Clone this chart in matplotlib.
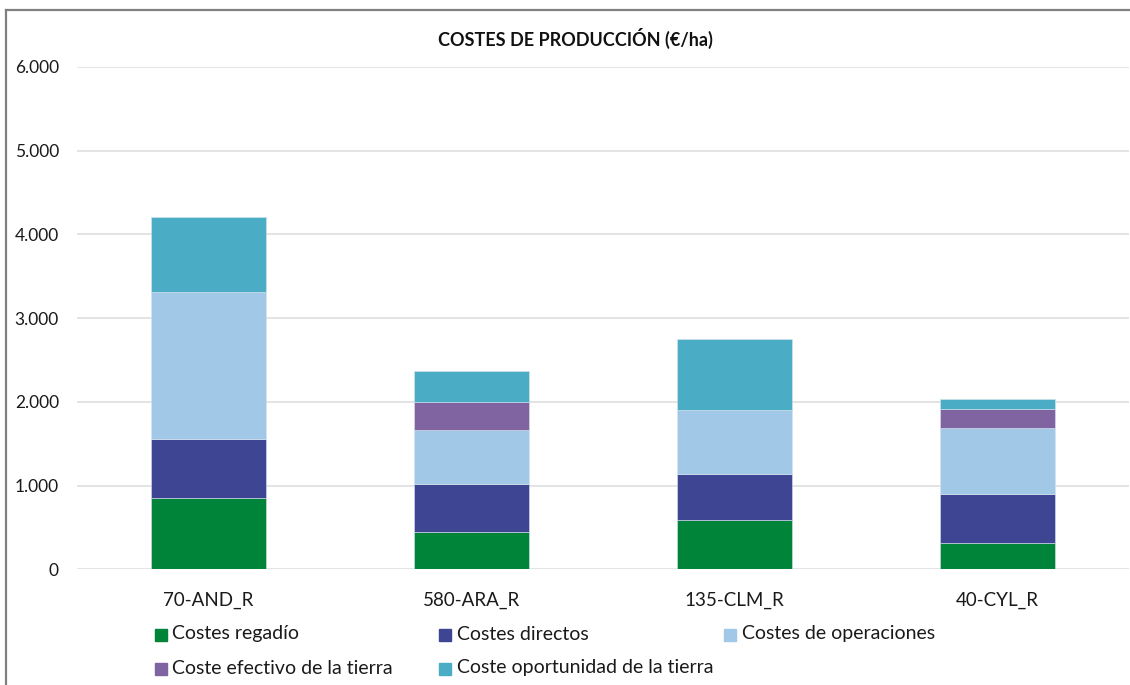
import matplotlib
matplotlib.use("Agg")
import matplotlib.pyplot as plt
from matplotlib.patches import Rectangle
from matplotlib.lines import Line2D
import numpy as np

plt.rcParams['font.family'] = ['Lato', 'DejaVu Sans']

regions = ['70-AND_R', '580-ARA_R', '135-CLM_R', '40-CYL_R']
series_names = ['Costes regadío', 'Costes directos', 'Costes de operaciones',
                'Coste efectivo de la tierra', 'Coste oportunidad de la tierra']
costes_regadio = [850, 445, 585, 310]
costes_directos = [705, 570, 555, 595]
costes_operaciones = [1760, 650, 765, 780]
coste_efectivo = [0, 335, 0, 225]
coste_oportunidad = [890, 365, 845, 120]
colors = ['#00843A', '#3E4592', '#A2C8E8', '#8064A2', '#4BACC6']

series = [costes_regadio, costes_directos, costes_operaciones, coste_efectivo, coste_oportunidad]

fig = plt.figure(figsize=(11.3, 6.85), dpi=100)
ax = fig.add_axes([77 / 1130, 1 - 569.3 / 685, 1052 / 1130, (6 * 83.75) / 685])

x = np.arange(len(regions))
bottom = np.zeros(len(regions))
for vals, col, name in zip(series, colors, series_names):
    vals = np.array(vals, dtype=float)
    ax.bar(x, vals, width=0.44, bottom=bottom, color=col, edgecolor='#d8e4ee',
           linewidth=0.4, label=name, zorder=3)
    bottom += vals

ax.set_xlim(-0.5, len(regions) - 0.5)
ax.set_ylim(0, 6000)
ax.set_yticks(np.arange(0, 6001, 1000))
ax.set_yticklabels([f'{v:,}'.replace(',', '.') for v in range(0, 6001, 1000)], fontsize=12.5)
ax.set_xticks(x)
ax.set_xticklabels(regions, fontsize=13.5)
ax.tick_params(axis='both', length=0, colors='#1a1a1a')
ax.tick_params(axis='y', pad=13)
ax.tick_params(axis='x', pad=16)
ax.grid(axis='y', color='#e4e4e4', linewidth=1.4, zorder=0)
for s in ax.spines.values():
    s.set_visible(False)

fig.text(575 / 1130, 1 - 38 / 685, 'COSTES DE PRODUCCIÓN (€/ha)', ha='center', va='center',
         fontsize=13, fontweight='bold', color='#111111')

# legend laid out like the Excel one
for i, (name, col) in enumerate(zip(series_names, colors)):
    row, c = divmod(i, 3)
    px = 154.5 + c * 284.75
    py = 635 + row * 34
    fig.add_artist(Rectangle((px / 1130, 1 - (py + 6) / 685), 12 / 1130, 12 / 685,
                             transform=fig.transFigure, color=col))
    fig.text((px + 18) / 1130, 1 - (py - 1) / 685, name, ha='left', va='center',
             fontsize=14, color='#1a1a1a')

# chart border (top and left)
fig.add_artist(Line2D([6 / 1130, 1], [1 - 10 / 685, 1 - 10 / 685], transform=fig.transFigure,
                      color='#808080', linewidth=1.6))
fig.add_artist(Line2D([6 / 1130, 6 / 1130], [0, 1 - 10 / 685], transform=fig.transFigure,
                      color='#808080', linewidth=1.6))

fig.savefig('out.png', dpi=100)
